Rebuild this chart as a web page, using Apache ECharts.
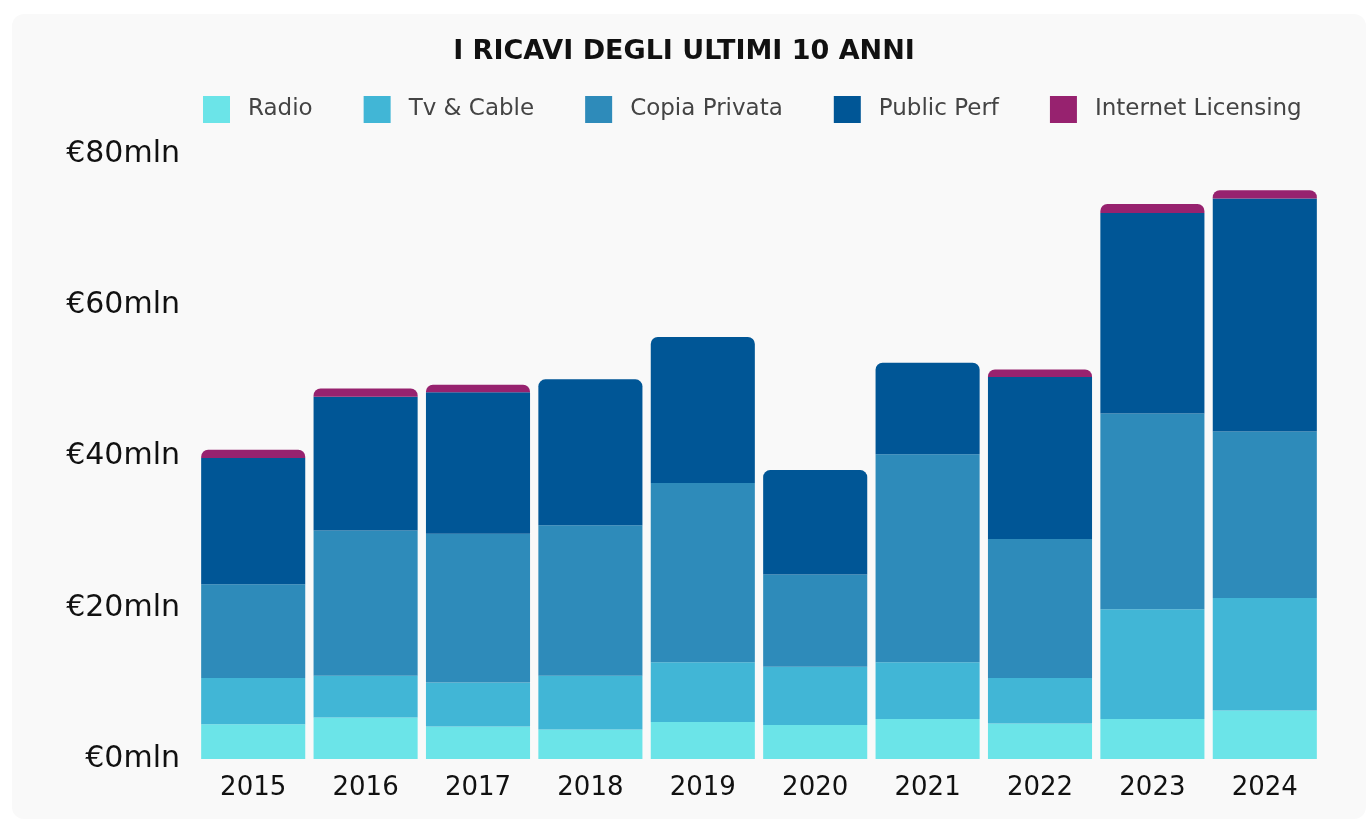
<!DOCTYPE html>
<html>
<head>
<meta charset="utf-8">
<script src="https://cdn.jsdelivr.net/npm/echarts@6/dist/echarts.min.js"></script>
<style>
  html, body { margin: 0; padding: 0; background: #fff; width: 1368px; height: 820px; overflow: hidden; }
  .card { position: absolute; left: 12px; top: 14px; right: 2px; bottom: 1px; background: #f9f9f9; border-radius: 12px; }
  #chart { position: absolute; left: 0; top: 0; width: 1368px; height: 820px; }
</style>
</head>
<body>
<div class="card"></div>
<div id="chart"></div>
<script>
const years = ['2015', '2016', '2017', '2018', '2019', '2020', '2021', '2022', '2023', '2024']
const radio = [4.6, 5.5, 4.3, 3.9, 4.9, 4.5, 5.3, 4.7, 5.3, 6.4]
const tvCable = [6.1, 5.5, 5.8, 7.1, 7.9, 7.7, 7.5, 6.0, 14.5, 14.9]
const copiaPrivata = [12.4, 19.2, 19.7, 19.9, 23.7, 12.2, 27.5, 18.4, 25.9, 22.0]
const publicPerf = [16.7, 17.7, 18.7, 19.3, 19.3, 13.8, 12.1, 21.4, 26.5, 30.8]
const internetLicensing = [1.1, 1.1, 1.0, 0, 0, 0, 0, 1.0, 1.2, 1.1]

const seriesList = [
  { name: 'Radio', data: radio, color: '#6be4e8' },
  { name: 'Tv & Cable', data: tvCable, color: '#41b6d6' },
  { name: 'Copia Privata', data: copiaPrivata, color: '#2e8bba' },
  { name: 'Public Perf', data: publicPerf, color: '#005696' },
  { name: 'Internet Licensing', data: internetLicensing, color: '#97226f' }
]

// which series is on top of each stack, so it gets the rounded corners
const topIndex = years.map((_, i) => {
  let t = 0
  seriesList.forEach((s, k) => { if (s.data[i] > 0) t = k })
  return t
})

const font = 'DejaVu Sans'
const chart = echarts.init(document.getElementById('chart'))

chart.setOption({
  backgroundColor: 'transparent',
  title: {
    text: 'I RICAVI DEGLI ULTIMI 10 ANNI',
    left: 'center',
    top: 33,
    textStyle: { fontFamily: font, fontWeight: 'bold', fontSize: 27, color: '#111' }
  },
  legend: {
    top: 91,
    left: 198,
    icon: 'rect',
    itemWidth: 27,
    itemHeight: 27,
    itemGap: 51,
    textStyle: { fontFamily: font, fontSize: 23, color: '#444', padding: [0, 0, 0, 13] }
  },
  grid: {
    left: 197,
    right: 47,
    top: 154,
    bottom: 61
  },
  xAxis: {
    type: 'category',
    data: years,
    axisLine: { show: false },
    axisTick: { show: false },
    axisLabel: { fontFamily: font, fontSize: 26, color: '#111', margin: 16 }
  },
  yAxis: {
    type: 'value',
    min: 0,
    max: 80,
    interval: 20,
    splitLine: { show: false },
    axisLabel: { fontFamily: font, fontSize: 30, color: '#111', margin: 17, formatter: '€{value}mln' }
  },
  series: seriesList.map((s, k) => ({
    name: s.name,
    type: 'bar',
    stack: 'ricavi',
    barCategoryGap: '7.4%',
    itemStyle: { color: s.color },
    data: s.data.map((v, i) => ({
      value: v,
      itemStyle: { borderRadius: topIndex[i] === k ? [7, 7, 0, 0] : 0 }
    }))
  }))
})
</script>
</body>
</html>
